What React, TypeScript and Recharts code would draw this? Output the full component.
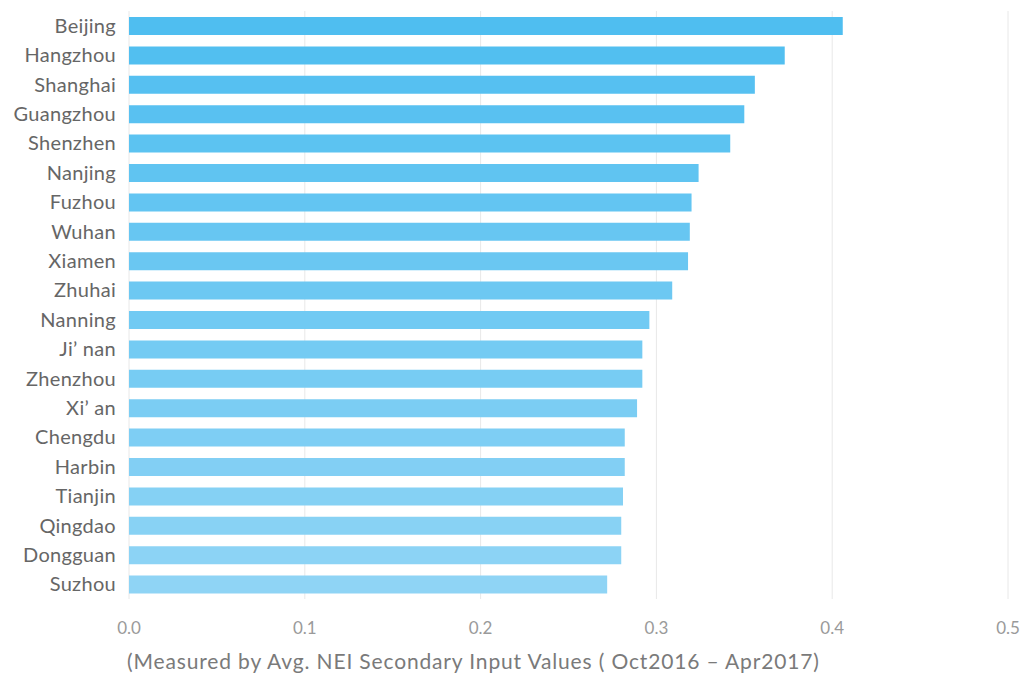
import React from 'react';
import { BarChart, Bar, XAxis, YAxis, CartesianGrid, Cell, Label } from 'recharts';

const cities = [
  'Beijing', 'Hangzhou', 'Shanghai', 'Guangzhou', 'Shenzhen', 'Nanjing', 'Fuzhou',
  'Wuhan', 'Xiamen', 'Zhuhai', 'Nanning', 'Ji’ nan', 'Zhenzhou', 'Xi’ an',
  'Chengdu', 'Harbin', 'Tianjin', 'Qingdao', 'Dongguan', 'Suzhou',
];

const neiValues = [
  0.406, 0.373, 0.356, 0.350, 0.342, 0.324, 0.320, 0.319, 0.318, 0.309,
  0.296, 0.292, 0.292, 0.289, 0.282, 0.282, 0.281, 0.280, 0.280, 0.272,
];

const xTicks = [0, 0.1, 0.2, 0.3, 0.4, 0.5];

const axisTitle = '(Measured by Avg. NEI Secondary Input Values ( Oct2016 – Apr2017)';

const data = cities.map((city, i) => ({ city, value: neiValues[i] }));

// bars fade from a deeper sky blue at the top to a pale one at the bottom
const topColor = [0x4f, 0xbe, 0xf0];
const bottomColor = [0x8f, 0xd4, 0xf5];
const barColor = (i: number) => {
  const t = i / (cities.length - 1);
  const c = topColor.map((v, k) => Math.round(v + (bottomColor[k] - v) * t));
  return `rgb(${c[0]}, ${c[1]}, ${c[2]})`;
};

const font = 'Lato, "Open Sans", sans-serif';

export default function App() {
  return (
    <div style={{ position: 'absolute', left: 0, top: 0, width: 1026, height: 682, background: '#fff' }}>
      <BarChart
        width={1026}
        height={682}
        data={data}
        layout="vertical"
        margin={{ top: 11, right: 18, left: 0, bottom: 0 }}
        barSize={18}
      >
        <CartesianGrid horizontal={false} stroke="#e8e8e8" />
        <XAxis
          type="number"
          domain={[0, 0.5]}
          ticks={xTicks}
          tickFormatter={(v: number) => v.toFixed(1)}
          axisLine={false}
          tickLine={false}
          tickMargin={17}
          height={83}
          tick={{ fill: '#9a9a9a', fontSize: 17, fontFamily: font }}
        >
          <Label
            content={({ viewBox }: any) => (
              <text
                x={viewBox.x - 2}
                y={viewBox.y + 65}
                dominantBaseline="middle"
                fill="#7a7a7a"
                fontSize={21}
                letterSpacing={0.85}
                fontFamily={font}
              >
                {axisTitle}
              </text>
            )}
          />
        </XAxis>
        <YAxis
          type="category"
          dataKey="city"
          width={129}
          axisLine={false}
          tickLine={false}
          tickMargin={7}
          interval={0}
          tick={{ fill: '#666', fontSize: 20, letterSpacing: 0.3, fontFamily: font }}
        />
        <Bar dataKey="value" isAnimationActive={false}>
          {data.map((d, i) => (
            <Cell key={d.city} fill={barColor(i)} />
          ))}
        </Bar>
      </BarChart>
    </div>
  );
}
